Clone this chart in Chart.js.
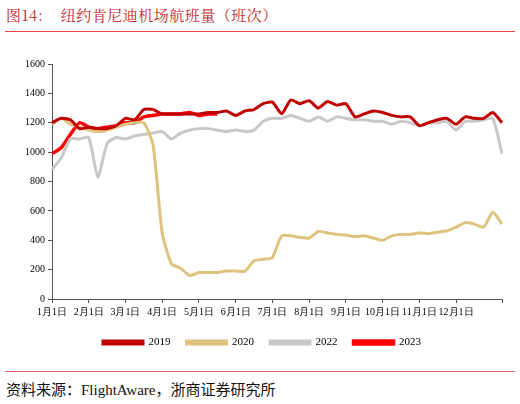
<!DOCTYPE html>
<html><head><meta charset="utf-8">
<script src="https://cdn.jsdelivr.net/npm/chart.js@4"></script>
<style>
body{margin:0;width:520px;height:404px;background:#fff;position:relative;overflow:hidden;font-family:"Noto Serif CJK SC","Noto Sans CJK SC",serif}
#t{position:absolute;left:6px;top:4px;font-size:15px;color:#c0282d;letter-spacing:0.5px}
#l1{position:absolute;left:5px;right:5px;top:31px;border-top:1px solid #d44;}
#l2{position:absolute;left:5px;right:5px;top:371px;border-top:1px solid #d66;}
#s{position:absolute;left:6px;top:378px;font-size:15px;color:#111;font-family:"Liberation Serif","Noto Sans CJK SC",serif}
#w{position:absolute;left:0;top:55px;width:520px;height:303px}
</style></head><body>
<div id="t">图14:&nbsp;&nbsp;&nbsp;&nbsp;纽约肯尼迪机场航班量（班次）</div>
<div id="l1"></div>
<div id="w"><canvas id="c"></canvas></div>
<div id="l2"></div>
<div id="s">资料来源：FlightAware，浙商证券研究所</div>
<script>
const labels=["1月1日","1月8日","1月15日","1月22日","2月1日","2月8日","2月15日","2月22日","3月1日","3月8日","3月15日","3月22日","4月1日","4月8日","4月15日","4月22日","5月1日","5月8日","5月15日","5月22日","6月1日","6月8日","6月15日","6月22日","7月1日","7月8日","7月15日","7月22日","8月1日","8月8日","8月15日","8月22日","9月1日","9月8日","9月15日","9月22日","10月1日","10月8日","10月15日","10月22日","11月1日","11月8日","11月15日","11月22日","12月1日","12月8日","12月15日","12月22日","12月26日","12月31日"];
const y2019=[1200,1230,1220,1160,1170,1160,1160,1180,1230,1220,1290,1290,1260,1260,1260,1260,1260,1270,1270,1280,1250,1280,1290,1330,1340,1262,1355,1330,1350,1300,1345,1320,1330,1240,1260,1280,1270,1250,1240,1240,1180,1200,1220,1230,1190,1240,1230,1230,1270,1200];
const y2020=[1190,1230,1190,1170,1150,1140,1150,1170,1190,1200,1200,1050,450,240,210,160,180,180,180,190,190,190,260,270,282,430,430,420,415,460,450,440,435,425,430,415,400,430,440,440,450,445,455,465,490,520,510,490,590,510];
const y2022=[880,960,1090,1090,1100,830,1060,1100,1090,1110,1120,1130,1140,1090,1130,1150,1160,1160,1150,1140,1150,1140,1150,1210,1230,1230,1250,1230,1210,1240,1210,1240,1230,1220,1220,1210,1210,1190,1210,1200,1180,1200,1200,1210,1150,1210,1210,1220,1230,990];
const y2023=[990,1030,1120,1200,1170,1160,1170,1180,1200,1200,1240,1250,1260,1260,1260,1270,1250,1260,1260];
const isM=l=>/月1日$/.test(l);
const ds=(n,d,c,w)=>({label:n,data:d,borderColor:c,backgroundColor:c,borderWidth:w,pointRadius:0,tension:0.2});
new Chart(document.getElementById('c'),{type:'line',
data:{labels,datasets:[ds('2019',y2019,'#c00000',3),ds('2020',y2020,'#dfc27d',3),ds('2022',y2022,'#c8c8c8',3),ds('2023',y2023,'#ff0000',3.5)]},
options:{responsive:true,maintainAspectRatio:false,animation:false,
layout:{padding:{left:22,right:18,top:8,bottom:0}},
plugins:{legend:{position:'bottom',labels:{boxWidth:40,boxHeight:3,padding:16,color:'#000',font:{family:'Liberation Serif',size:11}}},tooltip:{enabled:false}},
scales:{x:{offset:false,grid:{drawOnChartArea:false,tickLength:4,color:c=>isM(labels[c.index]||'')||c.index===labels.length-1?'#555':'rgba(0,0,0,0)'},border:{color:'#555'},
ticks:{autoSkip:false,maxRotation:0,color:'#000',font:{family:'Liberation Serif',size:10},callback:(v,i)=>isM(labels[i])?labels[i]:''}},
y:{min:0,max:1600,ticks:{stepSize:200,color:'#000',font:{family:'Liberation Serif',size:10},callback:v=>String(v)},grid:{drawOnChartArea:false,tickLength:4,color:'#555'},border:{color:'#555'}}}}});
</script></body></html>
